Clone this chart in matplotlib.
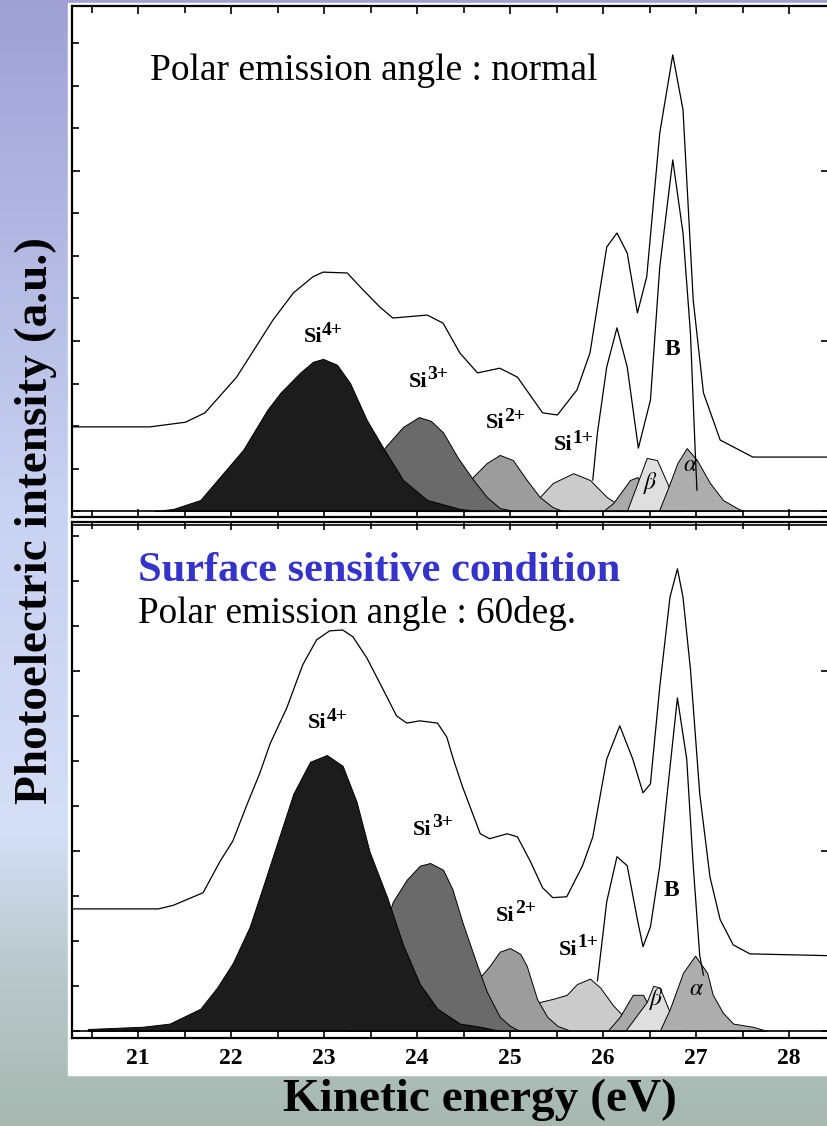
import numpy as np
import matplotlib.pyplot as plt
from matplotlib.patches import Rectangle
from matplotlib.colors import LinearSegmentedColormap
from matplotlib.ticker import MultipleLocator

plt.rcParams['font.family'] = ['Liberation Serif', 'DejaVu Serif']
plt.rcParams['mathtext.fontset'] = 'stix'

W, H = 827, 1126

# ---- normal emission (upper panel), energies in eV, intensity in a.u. ----
top_total_e = [20.30, 21.13, 21.51, 21.72, 22.06, 22.45, 22.67, 22.88, 22.99, 23.25, 23.39, 23.60,
               23.74, 24.11, 24.28, 24.46, 24.65, 24.89, 25.08, 25.35, 25.51, 25.72, 25.86, 26.04,
               26.15, 26.26, 26.37, 26.47, 26.61, 26.75, 26.86, 26.97, 27.08, 27.26, 27.61, 28.43]
top_total_i = [1.98, 1.98, 2.09, 2.31, 3.15, 4.49, 5.13, 5.51, 5.62, 5.60, 5.27, 4.80,
               4.54, 4.61, 4.42, 3.72, 3.25, 3.36, 3.15, 2.31, 2.26, 2.85, 3.72, 6.21,
               6.54, 6.07, 4.66, 5.51, 8.89, 10.73, 9.44, 4.96, 2.78, 1.67, 1.27, 1.27]

top_bulk_e = [25.89, 25.94, 26.04, 26.15, 26.26, 26.38, 26.51, 26.61, 26.75, 26.86, 26.94, 26.99, 27.01]
top_bulk_i = [0.73, 1.84, 3.39, 4.31, 3.39, 1.48, 2.61, 5.74, 8.26, 6.54, 4.19, 1.48, 0.49]

top_si4_e = [21.18, 21.38, 21.67, 21.88, 22.13, 22.39, 22.53, 22.74, 22.88, 22.99, 23.14, 23.28,
             23.46, 23.63, 23.85, 24.11, 24.46, 24.68]
top_si4_i = [0, 0.05, 0.26, 0.80, 1.44, 2.38, 2.78, 3.25, 3.51, 3.58, 3.44, 3.01,
             2.14, 1.51, 0.73, 0.26, 0.05, 0]
top_si3_e = [23.10, 23.40, 23.66, 23.85, 24.02, 24.15, 24.28, 24.44, 24.60, 24.75, 24.89, 25.05]
top_si3_i = [0, 0.55, 1.51, 1.98, 2.21, 2.12, 1.85, 1.25, 0.75, 0.33, 0.07, 0]
top_si2_e = [24.25, 24.45, 24.60, 24.75, 24.89, 25.03, 25.18, 25.32, 25.46, 25.57]
top_si2_i = [0, 0.45, 0.80, 1.13, 1.32, 1.20, 0.73, 0.33, 0.09, 0]
top_si1_e = [25.05, 25.20, 25.32, 25.46, 25.68, 25.86, 26.04, 26.22, 26.30]
top_si1_i = [0, 0.12, 0.33, 0.66, 0.89, 0.73, 0.33, 0.07, 0]
top_sh_e = [26.00, 26.11, 26.29, 26.37, 26.46, 26.55]
top_sh_i = [0, 0.19, 0.73, 0.80, 0.45, 0]
top_beta_e = [26.22, 26.26, 26.37, 26.47, 26.58, 26.69, 26.80, 26.85]
top_beta_i = [0, 0.02, 0.66, 1.25, 1.20, 0.66, 0.02, 0]
top_alpha_e = [26.60, 26.69, 26.80, 26.90, 27.01, 27.15, 27.29, 27.44, 27.51]
top_alpha_i = [0, 0.49, 1.13, 1.48, 1.20, 0.66, 0.26, 0.07, 0]

# ---- 60 deg emission (lower panel) ----
bot_total_e = [20.29, 21.22, 21.38, 21.70, 21.88, 22.02, 22.17, 22.31, 22.42, 22.60, 22.77, 22.92,
               23.06, 23.20, 23.31, 23.46, 23.60, 23.78, 23.89, 24.03, 24.22, 24.32, 24.39, 24.49,
               24.68, 24.78, 24.97, 25.08, 25.22, 25.35, 25.46, 25.61, 25.78, 25.89, 26.04, 26.18,
               26.32, 26.43, 26.51, 26.61, 26.72, 26.80, 26.86, 26.94, 27.04, 27.15, 27.26, 27.40,
               27.58, 28.43]
bot_total_i = [2.71, 2.71, 2.79, 3.07, 3.76, 4.22, 5.02, 5.73, 6.38, 7.18, 8.13, 8.69,
               8.89, 8.91, 8.76, 8.29, 7.73, 7.00, 6.84, 6.89, 6.84, 6.53, 6.04, 5.42,
               4.38, 4.27, 4.38, 4.31, 3.76, 3.18, 2.96, 2.98, 3.67, 4.31, 6.04, 6.78,
               6.04, 5.29, 5.49, 7.64, 9.64, 10.27, 9.64, 8.04, 5.27, 3.42, 2.47, 1.91,
               1.71, 1.67]

bot_bulk_e = [25.94, 26.04, 26.15, 26.26, 26.37, 26.43, 26.51, 26.61, 26.69, 26.80, 26.90, 26.97, 27.04, 27.08]
bot_bulk_i = [1.11, 2.87, 3.87, 3.67, 2.47, 1.87, 2.31, 3.67, 5.27, 7.40, 6.04, 3.67, 1.67, 1.24]

bot_si4_e = [20.46, 21.05, 21.34, 21.67, 21.85, 22.02, 22.20, 22.34, 22.49, 22.67, 22.85, 23.03,
             23.20, 23.35, 23.49, 23.68, 23.85, 24.03, 24.22, 24.46, 24.68, 24.89]
bot_si4_i = [0.04, 0.09, 0.16, 0.49, 0.96, 1.51, 2.31, 3.18, 4.13, 5.27, 5.98, 6.13,
             5.89, 5.09, 3.98, 2.96, 1.91, 1.04, 0.49, 0.16, 0.09, 0]
bot_si3_e = [23.25, 23.50, 23.74, 23.89, 24.03, 24.14, 24.28, 24.38, 24.49, 24.65, 24.75, 24.89, 25.00, 25.10]
bot_si3_i = [0, 1.30, 2.87, 3.36, 3.67, 3.73, 3.58, 3.15, 2.40, 1.44, 0.87, 0.31, 0.11, 0]
bot_si2_e = [24.40, 24.60, 24.68, 24.78, 24.89, 25.00, 25.11, 25.18, 25.29, 25.40, 25.51, 25.65]
bot_si2_i = [0, 0.90, 1.20, 1.44, 1.76, 1.84, 1.71, 1.44, 0.71, 0.31, 0.11, 0]
bot_si1_e = [25.05, 25.25, 25.32, 25.46, 25.61, 25.72, 25.86, 25.97, 26.11, 26.26, 26.40, 26.51]
bot_si1_i = [0, 0.45, 0.64, 0.71, 0.80, 1.04, 1.16, 0.96, 0.56, 0.24, 0.09, 0]
bot_sh_e = [26.05, 26.18, 26.32, 26.43, 26.51, 26.62]
bot_sh_i = [0, 0.31, 0.80, 0.80, 0.49, 0]
bot_beta_e = [26.24, 26.47, 26.54, 26.61, 26.72, 26.80, 26.86]
bot_beta_i = [0, 0.64, 1.00, 0.96, 0.40, 0.16, 0]
bot_alpha_e = [26.61, 26.72, 26.86, 26.99, 27.12, 27.18, 27.29, 27.40, 27.61, 27.76]
bot_alpha_i = [0, 0.49, 1.29, 1.67, 1.29, 0.80, 0.40, 0.16, 0.09, 0]

comp_colors = {'si1': '#cbcbcb', 'si2': '#9c9c9c', 'si3': '#6a6a6a', 'si4': '#1c1c1c',
               'sh': '#a9a9a9', 'beta': '#dfdfdf', 'alpha': '#adadad'}

xticks = [21, 22, 23, 24, 25, 26, 27, 28]


fig = plt.figure(figsize=(W / 100, H / 100), dpi=100)

# background gradient + white plate
bg = fig.add_axes([0, 0, 1, 1], zorder=-10)
cmap = LinearSegmentedColormap.from_list('bg', [(0, '#9fa1d5'), (0.45, '#c8d2f2'), (0.74, '#d4def6'),
                                                (0.86, '#bac9cd'), (1, '#a6b8b0')])
bg.imshow(np.linspace(0, 1, 256).reshape(-1, 1), aspect='auto', cmap=cmap,
          extent=[0, 1, 0, 1], origin='upper')
bg.add_patch(Rectangle((68 / W, 1 - 1075 / H), (W - 68) / W, (1075 - 3) / H,
                       color='white', transform=bg.transAxes))
bg.set_xlim(0, 1)
bg.set_ylim(0, 1)
bg.axis('off')


def panel(ax, total, bulk, comps, ylim, labels):
    for (e, i, c) in comps:
        ax.fill_between(e, 0, i, facecolor=comp_colors[c], edgecolor='black', lw=0.7, zorder=2)
    ax.plot(total[0], total[1], color='black', lw=0.9, zorder=3)
    ax.plot(bulk[0], bulk[1], color='black', lw=0.9, zorder=3)
    ax.axhline(0, color='black', lw=1.2, zorder=4)
    ax.set_xlim(20.29, 28.43)
    ax.set_ylim(*ylim)
    ax.xaxis.set_major_locator(MultipleLocator(1))
    ax.xaxis.set_minor_locator(MultipleLocator(0.5))
    ax.yaxis.set_major_locator(MultipleLocator(4))
    ax.yaxis.set_minor_locator(MultipleLocator(1))
    ax.tick_params(which='both', direction='in', top=True, bottom=True, left=True, right=True,
                   width=1.2, labelleft=False)
    ax.tick_params(which='major', length=6)
    ax.tick_params(which='minor', length=5, right=False)
    for s in ax.spines.values():
        s.set_linewidth(1.6)
    for (x, y, t, sup) in labels:
        if sup:
            # "Si" with a large bold superscript charge
            ax.text(x + 0.02, y, t, ha='right', va='center', fontsize=16, fontweight='bold', zorder=5)
            ax.annotate(sup, xy=(x + 0.02, y), xytext=(0, 5), textcoords='offset points',
                        ha='left', va='center', fontsize=14, fontweight='bold', zorder=5)
        else:
            ax.text(x, y, t, ha='center', va='center', fontsize=17, fontweight='bold', zorder=5)


si_labels_top = [(22.96, 4.09, 'Si', '4+'), (24.09, 3.04, 'Si', '3+'),
                 (24.92, 2.07, 'Si', '2+'), (25.65, 1.55, 'Si', '1+'),
                 (26.75, 3.79, 'B', None), (26.51, 0.66, r'$\beta$', None), (26.94, 1.08, r'$\alpha$', None)]
si_labels_bot = [(23.01, 6.84, 'Si', '4+'), (24.14, 4.47, 'Si', '3+'),
                 (25.03, 2.56, 'Si', '2+'), (25.71, 1.80, 'Si', '1+'),
                 (26.74, 3.11, 'B', None), (26.58, 0.71, r'$\beta$', None), (27.01, 0.91, r'$\alpha$', None)]

ax1 = fig.add_axes([72 / W, 1 - 517 / H, (829 - 72) / W, 511 / H])
panel(ax1, (top_total_e, top_total_i), (top_bulk_e, top_bulk_i),
      [(top_si1_e, top_si1_i, 'si1'), (top_si2_e, top_si2_i, 'si2'), (top_si3_e, top_si3_i, 'si3'),
       (top_si4_e, top_si4_i, 'si4'), (top_sh_e, top_sh_i, 'sh'), (top_beta_e, top_beta_i, 'beta'),
       (top_alpha_e, top_alpha_i, 'alpha')],
      (-0.14, 11.88), si_labels_top)
ax1.tick_params(labelbottom=False)

ax2 = fig.add_axes([72 / W, 1 - 1038 / H, (829 - 72) / W, 516 / H])
panel(ax2, (bot_total_e, bot_total_i), (bot_bulk_e, bot_bulk_i),
      [(bot_si1_e, bot_si1_i, 'si1'), (bot_si2_e, bot_si2_i, 'si2'), (bot_si3_e, bot_si3_i, 'si3'),
       (bot_si4_e, bot_si4_i, 'si4'), (bot_sh_e, bot_sh_i, 'sh'), (bot_beta_e, bot_beta_i, 'beta'),
       (bot_alpha_e, bot_alpha_i, 'alpha')],
      (-0.16, 11.31), si_labels_bot)
ax2.axhline(11.24, color='black', lw=1.2)
ax2.set_xticks(xticks)
ax2.set_xticklabels([str(t) for t in xticks], fontsize=17, fontweight='bold')
ax2.tick_params(axis='x', pad=7)

fig.text(150 / W, 1 - 80 / H, 'Polar emission angle : normal', fontsize=27, va='baseline', ha='left')
fig.text(138 / W, 1 - 581 / H, 'Surface sensitive condition', fontsize=30.5, fontweight='bold',
         color='#3434cc', va='baseline', ha='left')
fig.text(138 / W, 1 - 623 / H, 'Polar emission angle : 60deg.', fontsize=26.7, va='baseline', ha='left')

fig.text(36 / W, 1 - 520 / H, 'Photoelectric intensity (a.u.)', rotation=90, fontsize=34,
         fontweight='bold', ha='center', va='center')
fig.text(480 / W, 1 - 1100 / H, 'Kinetic energy (eV)', fontsize=34, fontweight='bold',
         ha='center', va='center')

plt.savefig('out.png', dpi=100)
